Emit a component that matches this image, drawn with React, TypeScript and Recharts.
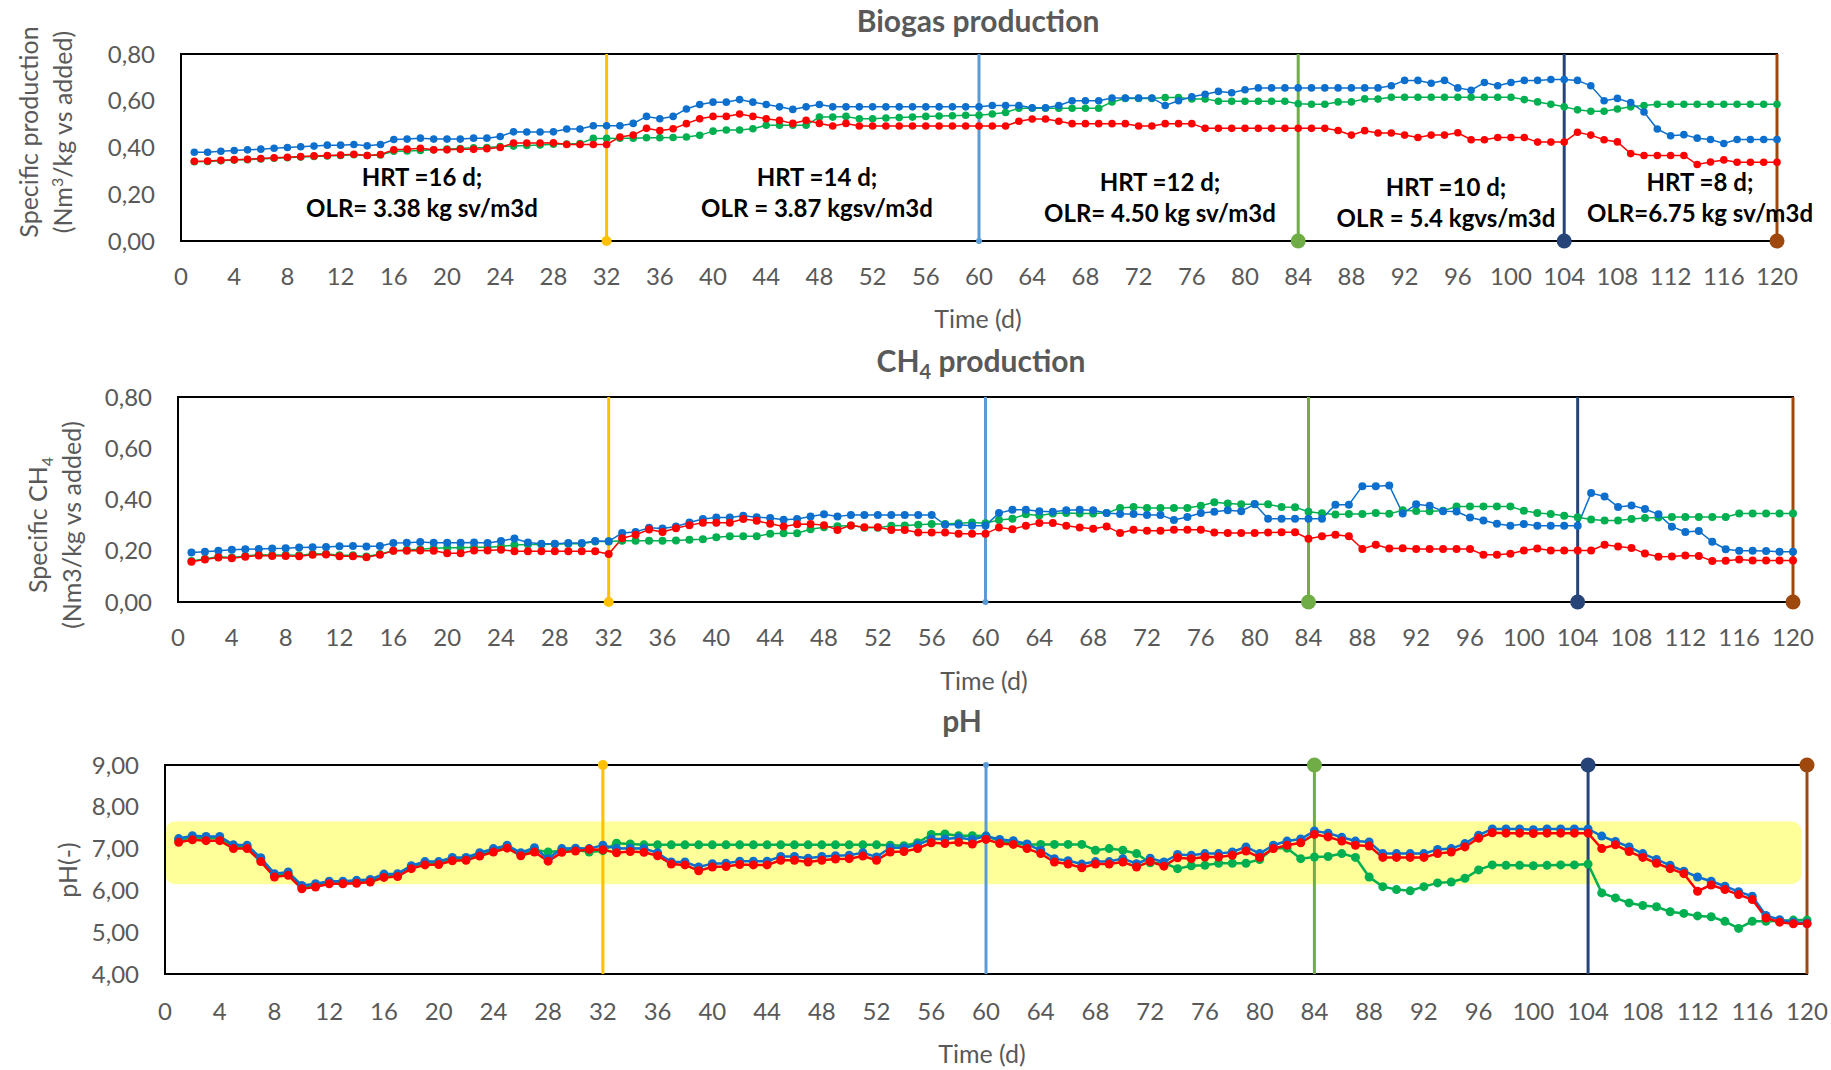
import React from "react";
import {
  LineChart,
  Line,
  XAxis,
  YAxis,
  ReferenceLine,
  ReferenceDot,
  ReferenceArea,
} from "recharts";

// day index of the daily samples
const days = Array.from({ length: 120 }, (_, i) => i + 1);

// Biogas production (Nm3/kg vs added)
const biogasBlue = [
  0.380, 0.380, 0.384, 0.387, 0.390, 0.393, 0.397, 0.400, 0.403, 0.406,
  0.410, 0.410, 0.413, 0.407, 0.413, 0.434, 0.436, 0.440, 0.436, 0.436,
  0.436, 0.440, 0.440, 0.447, 0.467, 0.466, 0.466, 0.467, 0.479, 0.479,
  0.493, 0.493, 0.493, 0.503, 0.533, 0.523, 0.533, 0.565, 0.584, 0.594,
  0.594, 0.605, 0.594, 0.584, 0.574, 0.563, 0.574, 0.584, 0.574, 0.574,
  0.574, 0.574, 0.574, 0.574, 0.574, 0.574, 0.574, 0.574, 0.574, 0.574,
  0.580, 0.580, 0.580, 0.570, 0.570, 0.580, 0.600, 0.600, 0.600, 0.612,
  0.612, 0.612, 0.612, 0.580, 0.600, 0.617, 0.628, 0.640, 0.634, 0.647,
  0.655, 0.655, 0.655, 0.655, 0.655, 0.655, 0.655, 0.655, 0.655, 0.655,
  0.664, 0.687, 0.687, 0.675, 0.687, 0.655, 0.645, 0.678, 0.664, 0.678,
  0.687, 0.687, 0.691, 0.691, 0.687, 0.664, 0.600, 0.610, 0.592, 0.552,
  0.479, 0.450, 0.455, 0.440, 0.434, 0.417, 0.434, 0.434, 0.434, 0.434,
];
const biogasRed = [
  0.341, 0.342, 0.345, 0.348, 0.350, 0.353, 0.356, 0.358, 0.361, 0.364,
  0.366, 0.368, 0.371, 0.366, 0.370, 0.390, 0.393, 0.397, 0.390, 0.390,
  0.392, 0.392, 0.395, 0.400, 0.419, 0.419, 0.419, 0.420, 0.413, 0.413,
  0.413, 0.413, 0.445, 0.453, 0.482, 0.472, 0.480, 0.502, 0.523, 0.533,
  0.533, 0.543, 0.533, 0.523, 0.516, 0.503, 0.516, 0.503, 0.492, 0.503,
  0.492, 0.492, 0.492, 0.492, 0.492, 0.492, 0.492, 0.492, 0.492, 0.492,
  0.492, 0.492, 0.512, 0.522, 0.522, 0.512, 0.502, 0.502, 0.502, 0.502,
  0.502, 0.492, 0.492, 0.502, 0.502, 0.502, 0.482, 0.482, 0.482, 0.482,
  0.482, 0.482, 0.482, 0.482, 0.482, 0.482, 0.473, 0.453, 0.472, 0.462,
  0.462, 0.453, 0.443, 0.453, 0.453, 0.463, 0.433, 0.433, 0.443, 0.443,
  0.443, 0.423, 0.423, 0.423, 0.465, 0.453, 0.433, 0.424, 0.374, 0.366,
  0.366, 0.366, 0.366, 0.327, 0.338, 0.347, 0.337, 0.337, 0.337, 0.337,
];
const biogasGreen = [
  0.339, 0.340, 0.343, 0.346, 0.348, 0.351, 0.354, 0.356, 0.359, 0.362,
  0.364, 0.366, 0.369, 0.366, 0.368, 0.384, 0.385, 0.387, 0.390, 0.393,
  0.396, 0.399, 0.400, 0.404, 0.406, 0.409, 0.411, 0.414, 0.415, 0.417,
  0.439, 0.439, 0.440, 0.440, 0.442, 0.442, 0.443, 0.445, 0.452, 0.470,
  0.475, 0.475, 0.480, 0.495, 0.495, 0.495, 0.495, 0.530, 0.530, 0.533,
  0.523, 0.523, 0.526, 0.528, 0.530, 0.533, 0.535, 0.536, 0.538, 0.538,
  0.543, 0.550, 0.568, 0.568, 0.568, 0.568, 0.568, 0.568, 0.568, 0.595,
  0.610, 0.610, 0.610, 0.614, 0.614, 0.608, 0.608, 0.598, 0.598, 0.598,
  0.598, 0.598, 0.598, 0.587, 0.585, 0.585, 0.595, 0.595, 0.608, 0.607,
  0.615, 0.615, 0.615, 0.615, 0.615, 0.615, 0.615, 0.615, 0.615, 0.615,
  0.605, 0.595, 0.585, 0.574, 0.561, 0.555, 0.555, 0.565, 0.574, 0.580,
  0.585, 0.585, 0.585, 0.585, 0.585, 0.585, 0.585, 0.585, 0.585, 0.585,
];

// CH4 production (Nm3/kg vs added)
const ch4Blue = [
  0.193, 0.196, 0.200, 0.204, 0.206, 0.207, 0.209, 0.210, 0.213, 0.214,
  0.215, 0.218, 0.219, 0.217, 0.219, 0.230, 0.231, 0.234, 0.231, 0.231,
  0.231, 0.232, 0.230, 0.238, 0.248, 0.232, 0.227, 0.227, 0.230, 0.230,
  0.238, 0.237, 0.269, 0.273, 0.290, 0.287, 0.295, 0.310, 0.324, 0.330,
  0.330, 0.337, 0.331, 0.328, 0.321, 0.324, 0.334, 0.342, 0.334, 0.340,
  0.340, 0.340, 0.340, 0.340, 0.340, 0.340, 0.301, 0.301, 0.298, 0.299,
  0.347, 0.360, 0.360, 0.354, 0.352, 0.358, 0.360, 0.358, 0.347, 0.343,
  0.343, 0.340, 0.340, 0.320, 0.332, 0.347, 0.352, 0.358, 0.354, 0.382,
  0.325, 0.325, 0.325, 0.325, 0.325, 0.380, 0.380, 0.452, 0.452, 0.455,
  0.345, 0.381, 0.376, 0.354, 0.353, 0.330, 0.318, 0.305, 0.298, 0.304,
  0.298, 0.298, 0.298, 0.298, 0.425, 0.412, 0.371, 0.377, 0.363, 0.342,
  0.294, 0.273, 0.277, 0.235, 0.206, 0.200, 0.200, 0.199, 0.196, 0.196,
];
const ch4Red = [
  0.157, 0.166, 0.174, 0.171, 0.177, 0.181, 0.180, 0.180, 0.179, 0.184,
  0.185, 0.179, 0.179, 0.175, 0.184, 0.200, 0.200, 0.201, 0.200, 0.190,
  0.190, 0.201, 0.201, 0.204, 0.198, 0.198, 0.198, 0.198, 0.198, 0.198,
  0.198, 0.187, 0.249, 0.262, 0.283, 0.273, 0.288, 0.300, 0.309, 0.309,
  0.309, 0.324, 0.317, 0.305, 0.295, 0.303, 0.304, 0.300, 0.281, 0.299,
  0.292, 0.292, 0.281, 0.281, 0.271, 0.271, 0.271, 0.266, 0.266, 0.266,
  0.291, 0.284, 0.298, 0.308, 0.308, 0.298, 0.291, 0.286, 0.295, 0.269,
  0.282, 0.278, 0.278, 0.282, 0.282, 0.282, 0.271, 0.269, 0.269, 0.269,
  0.271, 0.272, 0.272, 0.247, 0.257, 0.262, 0.257, 0.207, 0.223, 0.209,
  0.210, 0.207, 0.207, 0.207, 0.207, 0.207, 0.184, 0.184, 0.188, 0.201,
  0.209, 0.201, 0.201, 0.201, 0.201, 0.223, 0.217, 0.211, 0.189, 0.177,
  0.178, 0.181, 0.180, 0.160, 0.161, 0.166, 0.162, 0.162, 0.162, 0.162,
];
const ch4Green = [
  0.160, 0.169, 0.177, 0.174, 0.180, 0.184, 0.183, 0.183, 0.182, 0.187,
  0.188, 0.182, 0.182, 0.178, 0.187, 0.200, 0.204, 0.206, 0.210, 0.212,
  0.212, 0.214, 0.214, 0.217, 0.222, 0.224, 0.224, 0.225, 0.227, 0.227,
  0.236, 0.236, 0.239, 0.239, 0.239, 0.239, 0.240, 0.243, 0.245, 0.253,
  0.257, 0.257, 0.257, 0.266, 0.268, 0.268, 0.284, 0.292, 0.296, 0.299,
  0.290, 0.290, 0.298, 0.299, 0.301, 0.304, 0.304, 0.307, 0.310, 0.307,
  0.320, 0.325, 0.342, 0.338, 0.345, 0.347, 0.345, 0.345, 0.347, 0.367,
  0.371, 0.367, 0.367, 0.367, 0.367, 0.376, 0.389, 0.384, 0.381, 0.381,
  0.381, 0.371, 0.370, 0.352, 0.346, 0.341, 0.343, 0.343, 0.347, 0.344,
  0.358, 0.355, 0.354, 0.356, 0.373, 0.373, 0.373, 0.373, 0.373, 0.356,
  0.347, 0.343, 0.337, 0.331, 0.322, 0.318, 0.318, 0.324, 0.328, 0.330,
  0.332, 0.332, 0.332, 0.332, 0.332, 0.345, 0.345, 0.345, 0.345, 0.345,
];

// pH
const phBlue = [
  7.24, 7.31, 7.29, 7.29, 7.09, 7.08, 6.78, 6.40, 6.44, 6.12,
  6.16, 6.22, 6.22, 6.24, 6.26, 6.39, 6.40, 6.59, 6.69, 6.69,
  6.79, 6.79, 6.90, 7.00, 7.08, 6.90, 7.02, 6.76, 7.00, 7.01,
  7.00, 7.08, 7.00, 7.01, 7.00, 6.90, 6.68, 6.68, 6.56, 6.64,
  6.65, 6.70, 6.70, 6.70, 6.81, 6.81, 6.77, 6.81, 6.83, 6.84,
  6.90, 6.80, 7.02, 7.02, 7.09, 7.23, 7.23, 7.26, 7.22, 7.30,
  7.22, 7.19, 7.11, 6.96, 6.76, 6.71, 6.63, 6.69, 6.69, 6.76,
  6.64, 6.77, 6.68, 6.86, 6.84, 6.88, 6.88, 6.92, 7.04, 6.88,
  7.08, 7.18, 7.23, 7.42, 7.37, 7.27, 7.18, 7.16, 6.88, 6.88,
  6.88, 6.88, 6.98, 7.00, 7.12, 7.32, 7.47, 7.47, 7.47, 7.45,
  7.47, 7.47, 7.47, 7.47, 7.30, 7.17, 7.04, 6.88, 6.74, 6.60,
  6.46, 6.32, 6.22, 6.10, 5.97, 5.86, 5.40, 5.30, 5.24, 5.22,
];
const phRed = [
  7.15, 7.21, 7.19, 7.19, 7.00, 7.00, 6.69, 6.32, 6.36, 6.04,
  6.08, 6.16, 6.16, 6.17, 6.20, 6.31, 6.33, 6.52, 6.61, 6.62,
  6.71, 6.72, 6.82, 6.92, 7.01, 6.83, 6.92, 6.70, 6.91, 6.94,
  6.98, 6.97, 6.90, 6.93, 6.91, 6.83, 6.63, 6.61, 6.47, 6.56,
  6.57, 6.62, 6.61, 6.61, 6.72, 6.72, 6.68, 6.72, 6.75, 6.76,
  6.82, 6.72, 6.92, 6.93, 7.00, 7.14, 7.12, 7.15, 7.11, 7.22,
  7.12, 7.10, 7.00, 6.88, 6.68, 6.63, 6.54, 6.63, 6.63, 6.68,
  6.56, 6.69, 6.58, 6.78, 6.76, 6.80, 6.80, 6.84, 6.94, 6.79,
  7.00, 7.08, 7.14, 7.34, 7.28, 7.18, 7.08, 7.06, 6.79, 6.79,
  6.79, 6.79, 6.88, 6.92, 7.04, 7.25, 7.38, 7.37, 7.37, 7.36,
  7.37, 7.37, 7.37, 7.37, 7.00, 7.09, 6.93, 6.79, 6.65, 6.52,
  6.40, 5.98, 6.13, 6.02, 5.90, 5.78, 5.34, 5.24, 5.20, 5.20,
];
const phGreen = [
  7.20, 7.27, 7.25, 7.25, 7.05, 7.04, 6.74, 6.36, 6.40, 6.08,
  6.12, 6.19, 6.19, 6.21, 6.23, 6.35, 6.37, 6.56, 6.65, 6.66,
  6.75, 6.76, 6.86, 6.96, 7.05, 6.87, 6.97, 6.92, 6.95, 6.97,
  6.92, 6.95, 7.13, 7.11, 7.09, 7.09, 7.09, 7.09, 7.09, 7.09,
  7.09, 7.09, 7.09, 7.09, 7.09, 7.09, 7.09, 7.09, 7.09, 7.09,
  7.09, 7.09, 7.08, 7.07, 7.14, 7.34, 7.35, 7.31, 7.31, 7.30,
  7.18, 7.12, 7.10, 7.10, 7.10, 7.10, 7.10, 6.96, 7.00, 6.96,
  6.88, 6.66, 6.66, 6.52, 6.59, 6.60, 6.65, 6.65, 6.65, 6.74,
  7.01, 7.01, 6.76, 6.80, 6.81, 6.88, 6.79, 6.32, 6.09, 6.02,
  5.99, 6.09, 6.18, 6.20, 6.29, 6.49, 6.61, 6.60, 6.60, 6.59,
  6.60, 6.61, 6.61, 6.63, 5.94, 5.82, 5.70, 5.64, 5.61, 5.49,
  5.45, 5.39, 5.37, 5.26, 5.09, 5.26, 5.26, 5.27, 5.29, 5.29,
];

const xTicks = [0, 4, 8, 12, 16, 20, 24, 28, 32, 36, 40, 44, 48, 52, 56, 60, 64, 68, 72, 76, 80, 84, 88, 92, 96, 100, 104, 108, 112, 116, 120];
const prodTicks = [0, 0.2, 0.4, 0.6, 0.8];
const phTicks = [4, 5, 6, 7, 8, 9];

// end day of each HRT period
const phaseEnds = [32, 60, 84, 104, 120];
const hrtLabels = ["HRT =16 d;", "HRT =14 d;", "HRT =12 d;", "HRT =10 d;", "HRT =8 d;"];
const olrLabels = [
  "OLR= 3.38 kg sv/m3d",
  "OLR = 3.87 kgsv/m3d",
  "OLR= 4.50 kg sv/m3d",
  "OLR = 5.4 kgvs/m3d",
  "OLR=6.75 kg sv/m3d",
];
// recommended pH band
const phBand = [6.15, 7.65];

const BLUE = "#0C6FCD";
const RED = "#FF0000";
const GREEN = "#00B050";
const GREY = "#595959";
const phaseColors = ["#FFC000", "#5B9BD5", "#70AD47", "#264478", "#9E480E"];
const phaseDotR = [5, 3, 7.5, 7.5, 7.5];

const comma = (v: number) => v.toFixed(2).replace(".", ",");

const buildRows = (blue: number[], red: number[], green: number[]) =>
  days.map((d, i) => ({ day: d, blue: blue[i], red: red[i], green: green[i] }));

interface PanelProps {
  top: number;
  height: number;
  plotLeft: number;
  plotRight: number;
  plotTop: number;
  plotBottom: number;
  rows: { day: number; blue: number; red: number; green: number }[];
  yDomain: [number, number];
  yTicks: number[];
  dotsOnTop?: boolean;
  lineWidth: number;
  dotR: number;
  band?: number[];
  xTickMargin: number;
}

const Panel = (p: PanelProps) => {
  const axisH = 50;
  const dotY = p.dotsOnTop ? p.yDomain[1] : p.yDomain[0];
  const series: [string, string][] = [
    ["green", GREEN],
    ["blue", BLUE],
    ["red", RED],
  ];
  return (
    <div style={{ position: "absolute", left: 0, top: p.top }}>
      <LineChart
        width={1831}
        height={p.height}
        data={p.rows}
        margin={{
          top: p.plotTop - p.top,
          right: 1831 - p.plotRight,
          left: 0,
          bottom: p.top + p.height - p.plotBottom - axisH,
        }}
      >
        {p.band && (
          <ReferenceArea
            x1={0}
            x2={119.6}
            y1={p.band[0]}
            y2={p.band[1]}
            fill="#FFFF99"
            fillOpacity={1}
            stroke="none"
            radius={10}
          />
        )}
        <XAxis
          dataKey="day"
          type="number"
          domain={[0, 120]}
          ticks={xTicks}
          interval={0}
          height={axisH}
          tickLine={false}
          axisLine={false}
          tickSize={0}
          tickMargin={p.xTickMargin}
          tick={{ fill: GREY, fontSize: 24 }}
        />
        <YAxis
          type="number"
          domain={p.yDomain}
          ticks={p.yTicks}
          width={p.plotLeft}
          tickLine={false}
          axisLine={false}
          tickSize={0}
          tickMargin={26}
          tickFormatter={comma}
          tick={{ fill: GREY, fontSize: 24 }}
        />
        <ReferenceArea
          x1={0}
          x2={120}
          y1={p.yDomain[0]}
          y2={p.yDomain[1]}
          fill="none"
          stroke="#000"
          strokeWidth={2}
        />
        {series.map(([key, color]) => (
          <Line
            key={key}
            type="linear"
            dataKey={key}
            stroke={color}
            strokeWidth={p.lineWidth}
            dot={{ r: p.dotR, fill: color, stroke: color, strokeWidth: 0 }}
            activeDot={false}
            isAnimationActive={false}
          />
        ))}
        {phaseEnds.map((x, i) => (
          <ReferenceLine
            key={`l${x}`}
            x={x}
            stroke={phaseColors[i]}
            strokeWidth={3}
            ifOverflow="visible"
          />
        ))}
        {phaseEnds.map((x, i) => (
          <ReferenceDot
            key={`d${x}`}
            x={x}
            y={dotY}
            r={phaseDotR[i]}
            fill={phaseColors[i]}
            stroke="none"
            ifOverflow="visible"
          />
        ))}
      </LineChart>
    </div>
  );
};

const Txt = ({
  x,
  y,
  children,
  style,
}: {
  x: number;
  y: number;
  children: React.ReactNode;
  style?: React.CSSProperties;
}) => (
  <div
    style={{
      position: "absolute",
      left: x,
      top: y,
      transform: "translate(-50%, -50%)",
      whiteSpace: "nowrap",
      lineHeight: 1,
      ...style,
    }}
  >
    {children}
  </div>
);

const title: React.CSSProperties = { fontSize: 30, fontWeight: 700, color: GREY };
const axisTitle: React.CSSProperties = { fontSize: 25, color: GREY };
const vertical: React.CSSProperties = {
  fontSize: 25,
  color: GREY,
  transform: "translate(-50%, -50%) rotate(-90deg)",
};
const note: React.CSSProperties = { fontSize: 24, fontWeight: 700, color: "#000" };

const notePos = [
  [422, 177, 208],
  [817, 177, 208],
  [1160, 182, 213],
  [1446, 187, 218],
  [1700, 182, 213],
];

const App = () => {
  return (
    <div
      style={{
        position: "absolute",
        left: 0,
        top: 0,
        width: 1831,
        height: 1070,
        background: "#fff",
        fontFamily: "Lato, 'Open Sans', sans-serif",
      }}
    >
      <Panel
        top={0}
        height={335}
        plotLeft={181}
        plotRight={1777}
        plotTop={54}
        plotBottom={241}
        rows={buildRows(biogasBlue, biogasRed, biogasGreen)}
        yDomain={[0, 0.8]}
        yTicks={prodTicks}
        lineWidth={1.5}
        dotR={3.8}
        xTickMargin={27}
      />
      <Panel
        top={340}
        height={355}
        plotLeft={178}
        plotRight={1793}
        plotTop={397}
        plotBottom={602}
        rows={buildRows(ch4Blue, ch4Red, ch4Green)}
        yDomain={[0, 0.8]}
        yTicks={prodTicks}
        lineWidth={1.5}
        dotR={4}
        xTickMargin={27}
      />
      <Panel
        top={700}
        height={370}
        plotLeft={165}
        plotRight={1807}
        plotTop={765}
        plotBottom={974}
        rows={buildRows(phBlue, phRed, phGreen)}
        yDomain={[4, 9]}
        yTicks={phTicks}
        dotsOnTop
        band={phBand}
        lineWidth={2.5}
        dotR={4.5}
        xTickMargin={29}
      />

      <Txt x={978} y={20} style={title}>Biogas production</Txt>
      <Txt x={981} y={363} style={title}>
        CH<sub style={{ fontSize: 20 }}>4</sub> production
      </Txt>
      <Txt x={962} y={720} style={title}>pH</Txt>

      <Txt x={978} y={318} style={axisTitle}>Time (d)</Txt>
      <Txt x={984} y={680} style={axisTitle}>Time (d)</Txt>
      <Txt x={982} y={1053} style={axisTitle}>Time (d)</Txt>

      <Txt x={28} y={132} style={vertical}>Specific production</Txt>
      <Txt x={62} y={132} style={vertical}>
        (Nm<sup style={{ fontSize: 16 }}>3</sup>/kg vs added)
      </Txt>
      <Txt x={40} y={525} style={vertical}>
        Specific CH<sub style={{ fontSize: 16 }}>4</sub>
      </Txt>
      <Txt x={71} y={525} style={vertical}>(Nm3/kg vs added)</Txt>
      <Txt x={67} y={870} style={vertical}>pH(-)</Txt>

      {hrtLabels.map((h, i) => (
        <React.Fragment key={h}>
          <Txt x={notePos[i][0]} y={notePos[i][1]} style={note}>{h}</Txt>
          <Txt x={notePos[i][0]} y={notePos[i][2]} style={note}>{olrLabels[i]}</Txt>
        </React.Fragment>
      ))}
    </div>
  );
};

export default App;
